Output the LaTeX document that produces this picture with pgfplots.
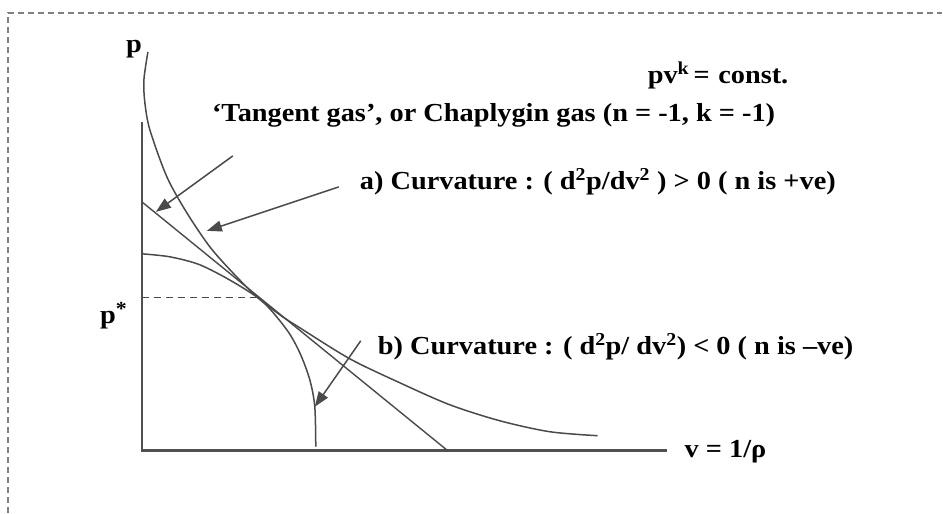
\documentclass[border=0pt]{standalone}
\usepackage{pgfplots}
\pgfplotsset{compat=1.18}
\usepackage{fontspec}
\setmainfont{Liberation Serif}[FakeStretch=1.09]
\usetikzlibrary{arrows.meta}
\definecolor{ln}{HTML}{4A4A4A}
\definecolor{ax}{HTML}{505050}
\begin{document}
\begin{tikzpicture}
\begin{axis}[
  scale only axis, width=943pt, height=513pt,
  xmin=0, xmax=943, ymin=0, ymax=513, y dir=reverse,
  axis lines=none, clip=false,
  every axis plot/.append style={no markers},
]
% frame extent (invisible)
\addplot[draw=none] coordinates {(0,0) (943,513)};
% dashed border (top and left)
\addplot[gray, line width=1.3pt, dash pattern=on 6pt off 4pt] coordinates {(8,513) (8,13) (943,13)};
% axes
\addplot[ax, line width=2.4pt] coordinates {(142,122) (142,451) (667,451)};
% p* dashed
\addplot[ln, line width=1.3pt, dash pattern=on 7pt off 5pt] coordinates {(142,298) (256,298)};
% tangent straight line
\addplot[ln, line width=1.4pt] coordinates {(142,202) (448,451)};
% concave curve
\addplot[ln, line width=1.5pt, smooth] coordinates {
 (142,254) (170,257) (200,265) (233,282) (263,302) (287,330) (300,353) (310,380) (315,407) (316,447)};
% convex curve
\addplot[ln, line width=1.5pt, smooth] coordinates {
 (148,52) (144,80) (145,103) (150,130) (167,177) (187,213) (210,247) (233,273) (257,297) (280,315) (300,328) (350,359) (400,383) (450,405) (500,421) (550,432) (598,436)};
% arrows
\addplot[ln, line width=1.5pt, -{Triangle[length=15pt,width=11pt]}] coordinates {(233,156) (156,212)};
\addplot[ln, line width=1.5pt, -{Triangle[length=15pt,width=11pt]}] coordinates {(339,187) (207,231)};
\addplot[ln, line width=1.5pt, -{Triangle[length=15pt,width=11pt]}] coordinates {(361,341) (315,407)};
% labels
\begin{scope}[every node/.style={font=\fontsize{26}{29}\selectfont\bfseries, inner sep=0pt, text=black}]
\node[anchor=base] at (axis cs:134,53) {p};
\node[anchor=base west] at (axis cs:648,84) {pv\textsuperscript{k}\,=\,\,const.};
\node[anchor=base west] at (axis cs:212,122) {‘Tangent gas’, or Chaplygin gas (n = -1, k = -1)};
\node[anchor=base west] at (axis cs:360,190) {a) Curvature : ( d\textsuperscript{2}p/dv\textsuperscript{2} ) > 0 ( n is +ve)};
\node[anchor=base west] at (axis cs:378,355) {b) Curvature : ( d\textsuperscript{2}p/ dv\textsuperscript{2}) < 0 ( n is –ve)};
\node[anchor=base west] at (axis cs:100,324) {p\raisebox{0.3em}{\fontsize{20}{20}\selectfont *}};
\node[anchor=base west] at (axis cs:685,458) {v = 1/ρ};
\end{scope}
\end{axis}
\end{tikzpicture}
\end{document}
